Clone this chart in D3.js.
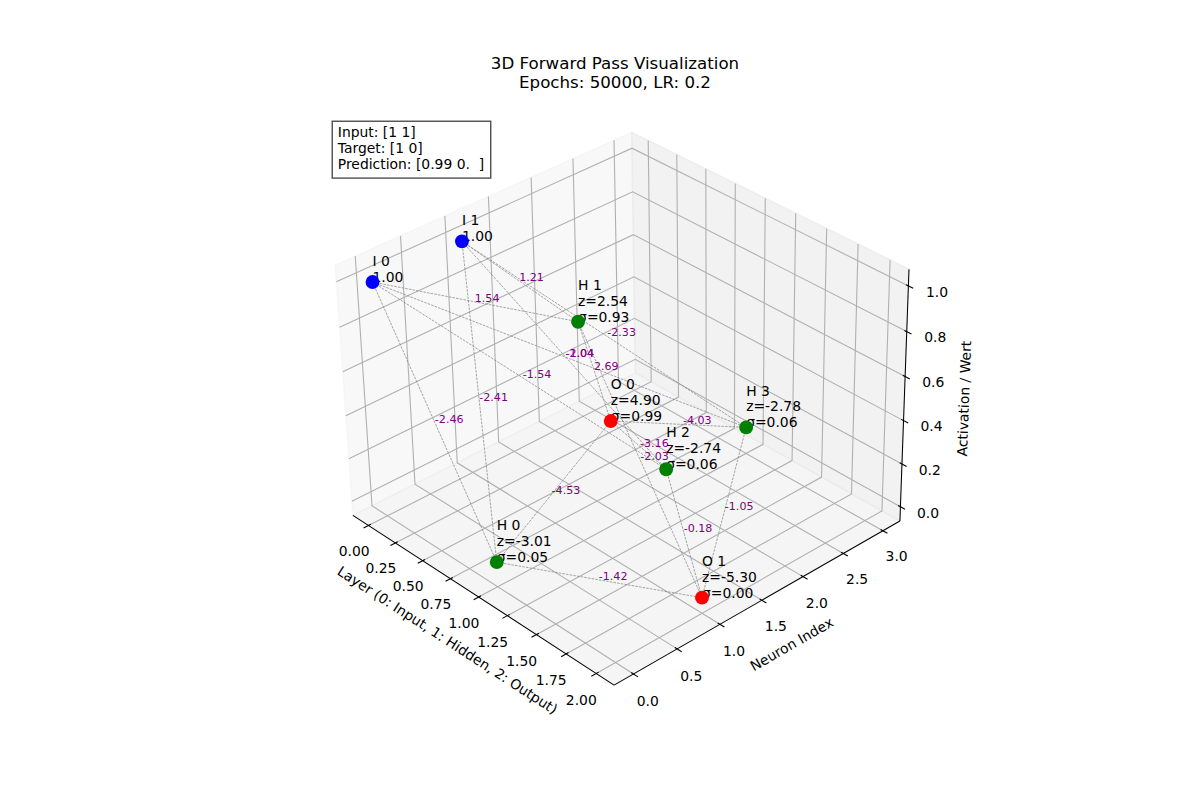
<!DOCTYPE html>
<html><head><meta charset="utf-8">
<script src="https://cdn.jsdelivr.net/npm/d3@7"></script>
<style>body{margin:0;background:#fff} text{font-family:"DejaVu Sans",sans-serif}</style>
</head><body><svg id="c" width="1200" height="800"></svg>
<script>
// ---------------- data ----------------
const neuronNames = ["I 0","I 1","H 0","H 1","H 2","H 3","O 0","O 1"];
const neuronLayer = [0,0,1,1,1,1,2,2];
const neuronIndex = [0,1,0,1,2,3,0,1];
const neuronPre   = [null,null,-3.01,2.54,-2.74,-2.78,4.90,-5.30];
const neuronAct   = [1.00,1.00,0.047,0.927,0.061,0.058,0.993,0.00497];
const neuronColor = ["blue","blue","green","green","green","green","red","red"];
const inputIds  = [0,1];
const hiddenIds = [2,3,4,5];
const outputIds = [6,7];
const weightsIH = [[-2.46,1.54,-1.54,-2.04],[-2.41,1.21,-1.04,-2.33]];
const weightsHO = [[-4.53,-1.42],[2.69,-2.03],[-3.16,-0.18],[-4.03,-1.05]];
const xTicks = [0,0.25,0.5,0.75,1,1.25,1.5,1.75,2];
const yTicks = [0,0.5,1,1.5,2,2.5,3];
const zTicks = [0,0.2,0.4,0.6,0.8,1];
const titleLines = ["3D Forward Pass Visualization","Epochs: 50000, LR: 0.2"];
const infoLines = ["Input: [1 1]","Target: [1 0]","Prediction: [0.99 0.  ]"];
const axisLabels = ["Layer (0: Input, 1: Hidden, 2: Output)","Neuron Index","Activation / Wert"];

// ---------------- projection (matplotlib-like 3D) ----------------
const svg = d3.select("#c");
const AX = {left:307, top:96, size:616};
const elev = 32.43, azim = -42.2, roll = -1.01, dist = 10;
const boxAspect = [4,4,3].map(v => v*1.8294640721620434/Math.hypot(4,4,3));
const padExt = e => { const r = e[1]-e[0]; return [e[0]-0.05*r, e[1]+0.05*r]; };
const lim = [padExt(d3.extent(neuronLayer)), padExt(d3.extent(neuronIndex)), padExt(d3.extent(neuronAct))];
const sc = lim.map((l,i) => d3.scaleLinear().domain(l).range([0, boxAspect[i]]));
const er = elev*Math.PI/180, ar = azim*Math.PI/180, rr = roll*Math.PI/180;
const wv = [Math.cos(er)*Math.cos(ar), Math.cos(er)*Math.sin(ar), Math.sin(er)];
const Rc = boxAspect.map(v => v/2);
const eye = Rc.map((r,i) => r + dist*wv[i]);
const cross = (a,b) => [a[1]*b[2]-a[2]*b[1], a[2]*b[0]-a[0]*b[2], a[0]*b[1]-a[1]*b[0]];
const nrm = a => { const n = Math.hypot(...a); return a.map(v => v/n); };
const dot = (a,b) => a[0]*b[0]+a[1]*b[1]+a[2]*b[2];
const u0 = nrm(cross([0,0,1], wv));
const v0 = cross(wv, u0);
const uv = u0.map((x,i) => Math.cos(rr)*x + Math.sin(rr)*v0[i]);
const vv = v0.map((x,i) => -Math.sin(rr)*u0[i] + Math.cos(rr)*x);
const sxp = d3.scaleLinear().domain([-0.095,0.09]).range([AX.left, AX.left+AX.size]);
const syp = d3.scaleLinear().domain([-0.095,0.09]).range([AX.top+AX.size, AX.top]);
function proj(p){
  const P = [sc[0](p[0]), sc[1](p[1]), sc[2](p[2])];
  const d = P.map((v,i) => v-eye[i]);
  const zv = dot(wv,d);
  return [sxp(dot(uv,d)/(-zv)), syp(dot(vv,d)/(-zv)), zv];
}
const line2 = d3.line().x(d=>d[0]).y(d=>d[1]);
const path3 = pts => line2(pts.map(proj));

const deltas = lim.map(l => (l[1]-l[0])/12);
const centers = lim.map(l => (l[0]+l[1])/2);
const bnd = lim.map((l,i) => [l[0]-0.25*deltas[i], l[1]+0.25*deltas[i]]);
const [x0,x1] = bnd[0], [y0,y1] = bnd[1], [z0,z1] = bnd[2];
const dpp = 48/(72*(AX.size/100)*2);
const tickLabOff = deltas.map(d => (3.5+8)*dpp*d);
const axLabOff = deltas.map(d => (4+21)*dpp*d);

// panes
const gPane = svg.append("g");
const panes = [
  {pts:[[x0,y0,z0],[x0,y1,z0],[x0,y1,z1],[x0,y0,z1]], c:"rgb(242,242,242)"},
  {pts:[[x0,y1,z0],[x1,y1,z0],[x1,y1,z1],[x0,y1,z1]], c:"rgb(230,230,230)"},
  {pts:[[x0,y0,z0],[x1,y0,z0],[x1,y1,z0],[x0,y1,z0]], c:"rgb(236,236,236)"}
];
panes.forEach(p => gPane.append("path").attr("d", path3(p.pts)+"Z")
  .attr("fill", p.c).attr("fill-opacity",0.5).attr("stroke",p.c).attr("stroke-opacity",0.5).attr("stroke-width",1.39));

// grid
const gGrid = svg.append("g").attr("fill","none").attr("stroke","#b0b0b0").attr("stroke-width",1.1);
xTicks.forEach(t => gGrid.append("path").attr("d", path3([[t,y0,z0],[t,y1,z0],[t,y1,z1]])));
yTicks.forEach(t => gGrid.append("path").attr("d", path3([[x0,t,z1],[x0,t,z0],[x1,t,z0]])));
zTicks.forEach(t => gGrid.append("path").attr("d", path3([[x1,y1,t],[x0,y1,t],[x0,y0,t]])));

// axes
const gAx = svg.append("g");
function drawAxis(edgeA, edgeB, idx, ticks, fmt, tickDir, outSign, label){
  gAx.append("path").attr("d", path3([edgeA, edgeB])).attr("stroke","#000").attr("stroke-width",1.04).attr("fill","none");
  const others = [0,1,2].filter(i => i!==idx);
  ticks.forEach(t => {
    const p = edgeA.slice(); p[idx] = t;
    const pOut = p.slice(); pOut[tickDir] = p[tickDir] + outSign*0.2*deltas[tickDir];
    const pIn = p.slice(); pIn[tickDir] = p[tickDir] - outSign*0.1*deltas[tickDir];
    gAx.append("path").attr("d", path3([pOut,pIn])).attr("stroke","#000").attr("stroke-width",1.1);
    const lp = p.slice();
    others.forEach(i => { lp[i] = lp[i] + Math.sign(lp[i]-centers[i])*tickLabOff[i]; });
    const q = proj(lp);
    // matplotlib tick labels: ha=center, va=top
    gAx.append("text").attr("x",q[0]).attr("y",q[1]+10.56).attr("text-anchor","middle")
      .attr("font-size","13.9px").text(fmt(t));
  });
  const mid = edgeA.map((v,i) => (v+edgeB[i])/2);
  others.forEach(i => { mid[i] = mid[i] + Math.sign(mid[i]-centers[i])*axLabOff[i]; });
  const q = proj(mid), a = proj(edgeA), b = proj(edgeB);
  let ang = Math.atan2(-(b[1]-a[1]), b[0]-a[0])*180/Math.PI;
  ang = ((ang+180)%180+180)%180; if (ang>90) ang -= 180;
  gAx.append("text").attr("transform",`translate(${q[0]},${q[1]}) rotate(${-ang})`)
    .attr("text-anchor","middle").attr("y",3.64).attr("font-size","13.9px").text(label);
}
drawAxis([x0,y0,z0],[x1,y0,z0],0,xTicks,d3.format(".2f"),1,-1,axisLabels[0]);
drawAxis([x1,y0,z0],[x1,y1,z0],1,yTicks,d3.format(".1f"),0,1,axisLabels[1]);
drawAxis([x1,y1,z0],[x1,y1,z1],2,zTicks,d3.format(".1f"),0,1,axisLabels[2]);

// connections
const pos3 = i => [neuronLayer[i], neuronIndex[i], neuronAct[i]];
const conns = [];
inputIds.forEach((a,i) => hiddenIds.forEach((b,j) => conns.push({a,b,w:weightsIH[i][j]})));
hiddenIds.forEach((a,i) => outputIds.forEach((b,j) => conns.push({a,b,w:weightsHO[i][j]})));
const gEdge = svg.append("g").attr("fill","none").attr("stroke","#808080").attr("stroke-width",0.7).attr("stroke-dasharray","2.6,1.1");
conns.forEach(c => gEdge.append("path").attr("d", path3([pos3(c.a), pos3(c.b)])));
const gW = svg.append("g");
conns.forEach(c => {
  const m = pos3(c.a).map((v,i) => (v+pos3(c.b)[i])/2);
  const q = proj(m);
  gW.append("text").attr("x",q[0]).attr("y",q[1]).attr("font-size","11.1px").attr("fill","purple").text(c.w.toFixed(2));
});

// neuron labels
const gLab = svg.append("g");
neuronNames.forEach((n,i) => {
  const lines = neuronPre[i]===null ? [n, neuronAct[i].toFixed(2)]
    : [n, "z="+neuronPre[i].toFixed(2), "\u03c3="+neuronAct[i].toFixed(2)];
  const q = proj(pos3(i));
  const pitch = 15.95;
  const t = gLab.append("text").attr("font-size","13.9px").attr("fill","#000");
  lines.forEach((s,k) => t.append("tspan").attr("x",q[0]).attr("y", q[1]-(lines.length-1-k)*pitch).text(s));
});

// markers (depth sorted)
const order = d3.range(neuronNames.length).sort((a,b) => proj(pos3(a))[2]-proj(pos3(b))[2]);
const gM = svg.append("g");
order.forEach(i => { const q = proj(pos3(i)); gM.append("circle").attr("cx",q[0]).attr("cy",q[1]).attr("r",6.94).attr("fill",neuronColor[i]); });

// info box
const gInfo = svg.append("g");
const tx = AX.left + 0.05*AX.size, ty = AX.top + 0.05*AX.size;
const infoText = gInfo.append("text").attr("font-size","13.9px").attr("xml:space","preserve").style("white-space","pre");
infoLines.forEach((s,k) => infoText.append("tspan").attr("x",tx).attr("y", ty+10.56+k*15.95).text(s));
const bb = infoText.node().getBBox();
gInfo.insert("rect","text").attr("x",tx-5.56).attr("y",ty-5.56)
  .attr("width",bb.width+11.12).attr("height",(10.56+2*15.95+3.28)+11.12)
  .attr("fill","white").attr("fill-opacity",0.7).attr("stroke","#000").attr("stroke-opacity",0.7).attr("stroke-width",1.39);

// title
const title = svg.append("text").attr("font-size","16.67px").attr("text-anchor","middle");
titleLines.forEach((s,k) => title.append("tspan").attr("x", AX.left+AX.size/2).attr("y", AX.top-8.33-(titleLines.length-1-k)*19.1).text(s));
</script></body></html>
